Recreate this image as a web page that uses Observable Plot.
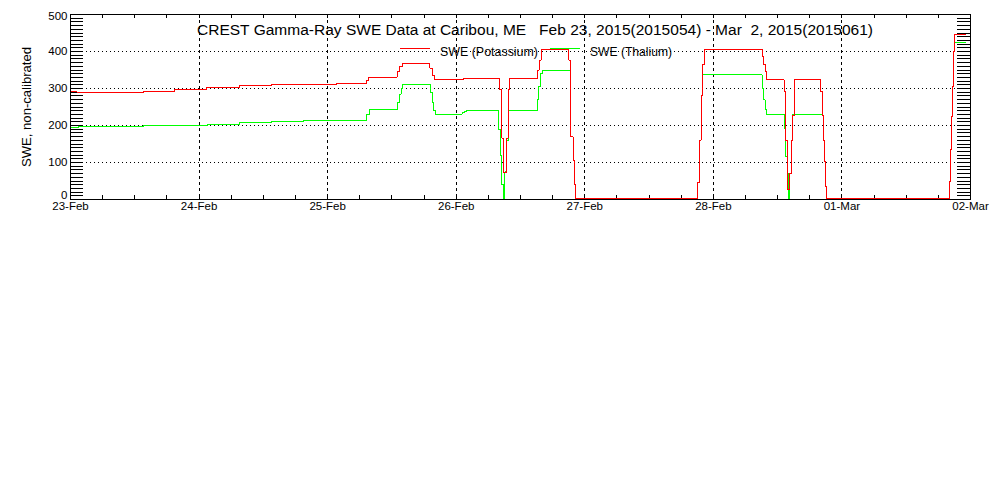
<!DOCTYPE html>
<html><head><meta charset="utf-8">
<script src="https://cdn.jsdelivr.net/npm/d3@7"></script>
<script src="https://cdn.jsdelivr.net/npm/@observablehq/plot@0.6"></script>
<style>
body{margin:0;background:#fff;}
#chart svg{font-family:"Liberation Sans",Arial,sans-serif;shape-rendering:crispEdges;}
</style></head><body><div id="chart"></div>
<script>
// ---- data ----
const startDate = "2015-02-23T00:00:00Z";
const endDate = "2015-03-02T00:00:00Z";
const dayTicks = ["2015-02-23","2015-02-24","2015-02-25","2015-02-26","2015-02-27","2015-02-28","2015-03-01","2015-03-02"];
const yTickValues = [0,100,200,300,400,500];
const gridValues = [100,200,300,400];
const titleText = "CREST Gamma-Ray SWE Data at Caribou, ME   Feb 23, 2015(2015054) - Mar  2, 2015(2015061)";
const yLabel = "SWE, non-calibrated";
const seriesNames = ["SWE (Potassium)", "SWE (Thalium)"];
const seriesColors = ["#ff0000", "#00ff00"];

// hours since Feb 23 00:00 UTC, value holds until next point
const potassiumHours = [0,1.2,13.6,19.4,25.3,31.5,37.6,49.7,55.3,55.6,61.0,61.4,61.9,67.1,67.5,67.9,73.4,80.1,80.5,80.8,81.3,81.7,82.0,87.1,87.5,87.9,93.0,93.3,93.8,94.0,94.3,117.1,117.4,117.7,118.0,118.3,129.1,129.4,129.7,130.0,133.2,133.5,133.8,133.9,134.3,134.6,134.8,135.1,140.0,140.3,140.6,140.8,141.0,141.2,164.1,164.25,164.4,164.6,164.8,165.0,167.1];
const potassiumSWE = [293,290,292.7,297,303,308.5,312,314,322,331,345,360,367,355,335,323,327.5,296,166,72,166,296,327.5,350,377,405,377,170,105,40,2,45,160,280,364,405,386,364,346,323,292,160,110,28,70,160,228,323,292,228,160,102,34,2,48,134,224,305,400,445,445];
const thaliumHours = [0,1.5,13.6,25.5,31.5,37.6,43.5,55.3,55.8,61.1,61.4,61.7,62.0,67.2,67.5,67.8,68.1,73.1,73.5,73.9,79.9,80.2,80.5,80.8,81.1,81.4,81.7,87.1,87.4,87.7,88.1,93.3,93.8,94.0,94.3,117.1,117.4,117.7,118.0,129.1,129.4,129.7,130.0,133.2,133.5,133.8,134.0,134.3,134.6,134.8,140.3,140.6,140.8,141.0,141.2,164.1,164.25,164.4,164.6,164.8,165.0,167.1];
const thaliumSWE = [195,198,200.5,203,207.6,211.4,214.5,230,242.5,262,285,300,310,290,262,240,231,234,237,240,190,120,40,0,75,160,240,270,305,341,348,170,105,40,0,45,160,280,337,301,269,242,230,193,115,70,0,70,160,230,228,160,102,34,0,48,134,224,305,400,425,425];

// ---- build tables ----
const t0 = Date.parse(startDate);
const toRows = (hours, vals) => hours.map((h, i) => ({date: new Date(t0 + h * 3600e3), swe: vals[i]}));
const potassium = toRows(potassiumHours, potassiumSWE);
const thalium = toRows(thaliumHours, thaliumSWE);
const days = dayTicks.map(d => new Date(d + "T00:00:00Z"));
const xMinor = d3.utcHour.every(6).range(new Date(startDate), new Date(endDate));
const yMinor = d3.range(0, 501, 10);

const W = 1000, H = 500, mL = 70, mR = 30, mT = 14, mB = 301;
const frameW = W - mL - mR, frameH = H - mT - mB;
const yAxisOpts = {tickSize: 0, tickPadding: 3, label: null};

const plot = Plot.plot({
  width: W, height: H,
  marginLeft: mL, marginRight: mR, marginTop: mT, marginBottom: mB,
  style: {fontSize: "11.5px", fontFamily: "Liberation Sans, Arial, sans-serif", color: "black", background: "white"},
  x: {type: "utc", domain: [new Date(startDate), new Date(endDate)]},
  y: {domain: [0, 500]},
  marks: [
    Plot.ruleY(gridValues, {stroke: "black", strokeDasharray: "1,3"}),
    Plot.ruleX(days.slice(1, -1), {stroke: "black", strokeDasharray: "3,3"}),
    Plot.tickY(yMinor, {y: d => d, stroke: "black", insetRight: frameW - 13}),
    Plot.tickY(yMinor, {y: d => d, stroke: "black", insetLeft: frameW - 13}),
    Plot.tickX(xMinor, {x: d => d, stroke: "black", insetTop: frameH - 4}),
    Plot.tickX(xMinor, {x: d => d, stroke: "black", insetBottom: frameH - 4}),
    Plot.line(thalium, {x: "date", y: "swe", curve: "step-after", stroke: seriesColors[1], strokeWidth: 1}),
    Plot.line(potassium, {x: "date", y: "swe", curve: "step-after", stroke: seriesColors[0], strokeWidth: 1}),
    Plot.frame({stroke: "black"}),
    Plot.axisY({...yAxisOpts, ticks: yTickValues.slice(1, -1)}),
    Plot.axisY({...yAxisOpts, ticks: [yTickValues[0]], dy: -4}),
    Plot.axisY({...yAxisOpts, ticks: [yTickValues[yTickValues.length - 1]], dy: 2}),
    Plot.axisX({ticks: days, tickSize: 0, tickPadding: 2, tickFormat: d3.utcFormat("%d-%b"), label: null})
  ]
});

const svg = d3.select(plot);
const g = svg.append("g").attr("fill", "black").style("font-family", "Liberation Sans, Arial, sans-serif");
g.append("text").attr("x", 197).attr("y", 35).attr("font-size", 14).attr("text-anchor", "start")
  .attr("textLength", 676).attr("lengthAdjust", "spacingAndGlyphs")
  .style("white-space", "pre").text(titleText);
// legend
const legendX = [[400, 430, 440, 98], [550, 580, 590, 82]];
seriesNames.forEach((name, i) => {
  const [x1, x2, tx, tl] = legendX[i];
  g.append("line").attr("x1", x1).attr("x2", x2).attr("y1", 48.5).attr("y2", 48.5)
    .style("stroke", seriesColors[i]).style("stroke-width", "1px").style("fill", "none");
  g.append("text").attr("x", tx).attr("y", 55.5).attr("font-size", 12.5).attr("text-anchor", "start")
    .attr("textLength", tl).attr("lengthAdjust", "spacingAndGlyphs").text(name);
});
// y label
g.append("text").attr("transform", "translate(31,107) rotate(-90)").attr("text-anchor", "middle")
  .attr("font-size", 12.5).attr("textLength", 120).attr("lengthAdjust", "spacingAndGlyphs").text(yLabel);

document.getElementById("chart").appendChild(plot);
</script></body></html>
